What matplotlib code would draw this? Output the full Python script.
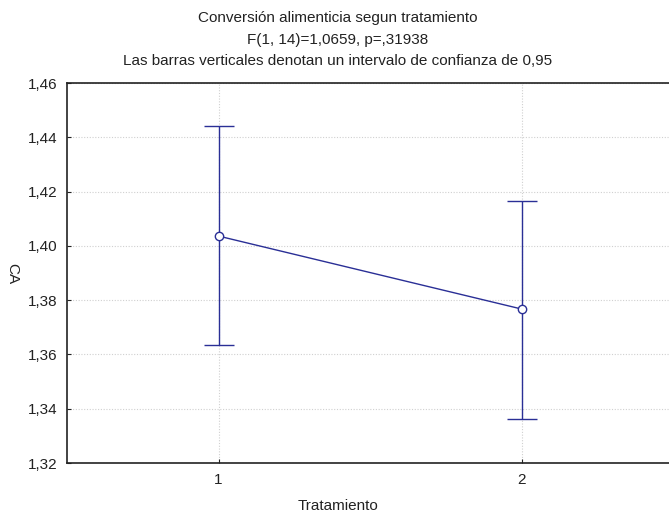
import matplotlib
matplotlib.use("Agg")
import matplotlib.pyplot as plt
from matplotlib.ticker import FuncFormatter

plt.rcParams['font.family'] = ['Liberation Sans', 'DejaVu Sans']

treatments = [1, 2]
means = [1.4036, 1.3767]
upper = [1.4442, 1.4165]
lower = [1.3635, 1.3362]
yticks = [1.32, 1.34, 1.36, 1.38, 1.40, 1.42, 1.44, 1.46]
title_lines = ["Conversión alimenticia segun tratamiento",
               "F(1, 14)=1,0659, p=,31938",
               "Las barras verticales denotan un intervalo de confianza de 0,95"]

fig = plt.figure(figsize=(6.69, 5.15), dpi=100)
W, H = 669, 515
left, right, top, bottom = 67, 673.5, 83, 463
ax = fig.add_axes([left / W, 1 - bottom / H, (right - left) / W, (bottom - top) / H])

col = '#2a2f96'
err_lo = [m - l for m, l in zip(means, lower)]
err_hi = [u - m for m, u in zip(means, upper)]
ax.errorbar(treatments, means, yerr=[err_lo, err_hi], color=col, lw=1.0,
            marker='o', markersize=6, markerfacecolor='white', markeredgecolor=col,
            markeredgewidth=1.0, capsize=11, capthick=1.0, zorder=3)

ax.set_xlim(0.5, 2.5)
ax.set_ylim(1.32, 1.46)
ax.set_xticks(treatments)
ax.set_yticks(yticks)
ax.yaxis.set_major_formatter(FuncFormatter(lambda v, p: f"{v:.2f}".replace('.', ',')))
ax.grid(True, color='#d0d0d0', linestyle=(0, (1, 1.5)), linewidth=0.8)
ax.set_axisbelow(True)
for s in ax.spines.values():
    s.set_linewidth(1.2)
    s.set_color('#222222')
ax.tick_params(direction='in', length=3, labelsize=11, colors='#222222', pad=7)
ax.tick_params(axis='x', pad=7)

fig.text(337.5 / W, 1 - 506 / H, "Tratamiento", ha='center', va='center', fontsize=11, color='#222222')
fig.text(12 / W, 1 - 274 / H, "CA", ha='center', va='center', rotation=270, fontsize=11, color='#222222')

ys = [18, 40, 61]
for t, y in zip(title_lines, ys):
    fig.text(337.5 / W, 1 - y / H, t, ha='center', va='center', fontsize=11, color='#222222')

fig.savefig("out.png", dpi=100)
